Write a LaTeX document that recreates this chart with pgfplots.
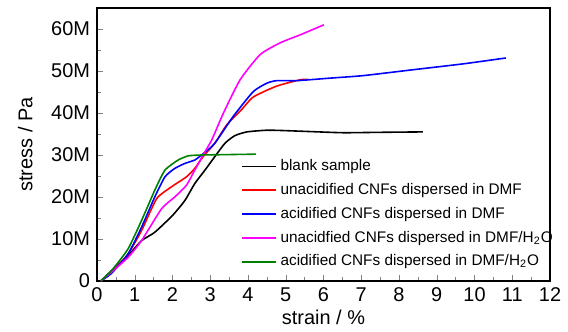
\documentclass[border=0pt]{standalone}
\usepackage{pgfplots}
\pgfplotsset{compat=1.18}
\usepackage{fontspec}
\setmainfont{Liberation Sans}
\definecolor{dgreen}{RGB}{0,128,0}
\definecolor{mag}{RGB}{255,0,255}
\definecolor{rred}{RGB}{255,0,0}
\definecolor{bblue}{RGB}{0,0,255}
\begin{document}
\begin{tikzpicture}
\begin{axis}[
  scale only axis,
  width=226.5bp, height=136.5bp,
  xmin=0, xmax=12, ymin=0, ymax=65,
  xtick={0,1,...,12},
  ytick={0,10,...,60},
  yticklabels={0,10M,20M,30M,40M,50M,60M},
  minor x tick num=1, minor y tick num=1,
  tick pos=left, tick align=inside,
  major tick length=3bp, minor tick length=1.8bp,
  /pgf/number format/assume math mode=true,
  tick label style={font=\fontsize{10}{12}\selectfont},
  label style={font=\fontsize{10}{12}\selectfont},
  xlabel={strain / \%}, ylabel={stress / Pa},
  xlabel style={yshift=3bp}, ylabel style={yshift=2.5bp},
  axis line style={line width=0.7pt},
  every axis plot/.append style={line width=0.8pt, smooth, tension=0.35},
  legend style={draw=none, fill=none, at={(axis cs:3.75,30.5)}, anchor=north west,
    font=\fontsize{7.7}{9.4}\selectfont, row sep=0.9bp, inner sep=1pt},
  legend cell align=left,
]
\addplot[black] coordinates {(0.1,0) (0.38,2.4) (0.82,6) (1.18,9.6) (1.53,11.6) (2.0,15.6) (2.33,19.2) (2.59,23.2) (2.86,26.4) (3.12,29.6) (3.39,32.8) (3.65,34.6) (3.97,35.5) (4.5,35.9) (5.0,35.8) (6.17,35.4) (6.6,35.3) (7.5,35.4) (8.63,35.5)};
\addlegendentry{blank sample}
\addplot[rred] coordinates {(0.1,0) (0.38,2.0) (0.82,6.4) (1.18,12) (1.58,19.6) (1.97,22.4) (2.37,24.8) (2.59,26.8) (2.81,29.6) (3.12,32.8) (3.44,37.2) (3.8,40.5) (4.14,43.8) (4.76,46.4) (5.38,47.9) (5.6,48.0)};
\addlegendentry{unacidified CNFs dispersed in DMF}
\addplot[bblue] coordinates {(0.1,0) (0.38,1.8) (0.82,6.4) (1.18,12.8) (1.53,20) (1.8,24.8) (2.06,26.8) (2.33,28) (2.59,28.8) (2.77,30) (3.04,32) (3.17,33.4) (3.61,39.2) (4.14,45.1) (4.5,47.1) (4.76,47.7) (5.29,47.7) (6.17,48.3) (7.05,48.9) (8.37,50.3) (9.7,51.7) (10.83,53.1)};
\addlegendentry{acidified CNFs dispersed in DMF}
\addplot[mag] coordinates {(0.1,0) (0.47,2.8) (0.82,5.6) (1.18,9.6) (1.71,17.2) (2.06,20) (2.37,22.8) (2.59,26.4) (2.81,30) (3.04,33.6) (3.35,40.0) (3.79,47.9) (4.32,53.9) (4.85,56.7) (5.38,58.6) (6.01,61.0)};
\addlegendentry{unacidfied CNFs dispersed in DMF/H\textsubscript{2}O}
\addplot[dgreen] coordinates {(0.1,0) (0.38,2.4) (0.82,7.6) (1.18,14.4) (1.53,21.6) (1.8,26.4) (2.15,28.8) (2.42,29.8) (2.77,30) (3.48,30.1) (4.21,30.2)};
\addlegendentry{acidified CNFs dispersed in DMF/H\textsubscript{2}O}
\end{axis}
\path ([shift={(-48.5bp,-24.5bp)}]current axis.south west) rectangle ([shift={(9bp,4bp)}]current axis.north east);
\end{tikzpicture}
\end{document}
